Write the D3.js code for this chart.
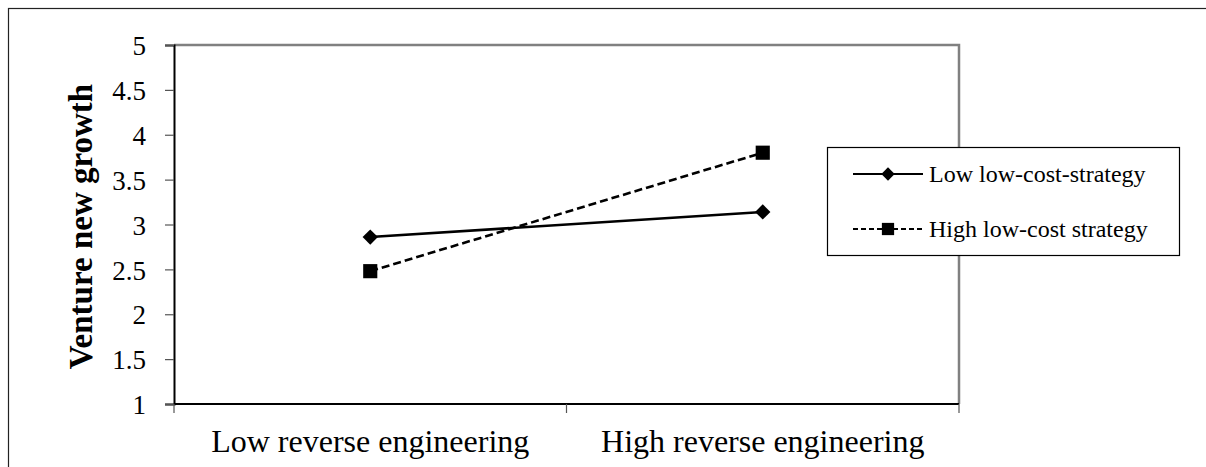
<!DOCTYPE html>
<html>
<head>
<meta charset="utf-8">
<script src="https://cdn.jsdelivr.net/npm/d3@7"></script>
<style>
  body { margin: 0; background: #fff; }
  svg text { font-family: "Liberation Serif", "Times New Roman", Times, "DejaVu Serif", serif !important; }
</style>
</head>
<body>
<svg id="chart" width="1206" height="467"></svg>
<script>
// chart data
const categories = ["Low reverse engineering", "High reverse engineering"];
const seriesNames = ["Low low-cost-strategy", "High low-cost strategy"];
const lowCostLow = [2.86, 3.14];
const lowCostHigh = [2.48, 3.80];
const yTicks = [1, 1.5, 2, 2.5, 3, 3.5, 4, 4.5, 5];

const svg = d3.select('#chart');

//outer frame of the figure
svg.append('rect')
    .attr('x', 8.5).attr('y', 8.5)
    .attr('width', 1300).attr('height', 600)
    .attr('fill', 'none')
    .attr('stroke', '#222')
    .attr('stroke-width', 1.2);

const margin = ({top: 45, right: 959, bottom: 404, left: 174});

const x = d3.scaleBand()
    .domain(categories)
    .range([margin.left, margin.right])
    .padding(0);

const y = d3.scaleLinear()
    .domain([1, 5])
    .range([margin.bottom, margin.top]);

//plot area border (grey top and right)
svg.append('path')
    .attr('d', `M${margin.left},${margin.top}H${margin.right}V${margin.bottom}`)
    .attr('fill', 'none')
    .attr('stroke', '#808080')
    .attr('stroke-width', 2.5);

//y axis
const yAxis = svg.append('g')
    .attr('transform', `translate(${margin.left},0)`)
    .call(d3.axisLeft(y).tickValues(yTicks).tickFormat(d => String(d)).tickSize(9).tickPadding(19));
yAxis.attr('font-family', null);
yAxis.select('.domain').attr('stroke', '#000').attr('stroke-width', 2);
yAxis.selectAll('.tick line').attr('stroke', '#555').attr('stroke-width', 1.2);
yAxis.selectAll('.tick text')
    .attr('fill', '#000')
    .style('font-size', '27px')
    .attr('dy', '0.36em');

//x axis baseline and tick marks at the band edges
const xEdges = categories.map(c => x(c)).concat([x(categories[categories.length - 1]) + x.bandwidth()]);
svg.append('line')
    .attr('x1', margin.left).attr('x2', margin.right)
    .attr('y1', margin.bottom).attr('y2', margin.bottom)
    .attr('stroke', '#000').attr('stroke-width', 2);
svg.append('g')
    .selectAll('line')
    .data(xEdges)
    .join('line')
        .attr('x1', d => d).attr('x2', d => d)
        .attr('y1', margin.bottom).attr('y2', margin.bottom + 9)
        .attr('stroke', '#555').attr('stroke-width', 1.2);

//x category labels
svg.append('g')
    .selectAll('text')
    .data(categories)
    .join('text')
        .attr('x', d => x(d) + x.bandwidth() / 2)
        .attr('y', 452)
        .attr('text-anchor', 'middle')
        .style('font-size', '32px')
        .text(d => d);

//y axis title
svg.append('text')
    .attr('transform', `translate(92,${(margin.top + margin.bottom) / 2 + 2}) rotate(-90)`)
    .attr('text-anchor', 'middle')
    .style('font-size', '33px')
    .style('font-weight', 'bold')
    .text('Venture new growth');

//series
const series = [
    {name: seriesNames[0], values: lowCostLow, dash: null, symbol: d3.symbolDiamond2, size: 150},
    {name: seriesNames[1], values: lowCostHigh, dash: '8,4', symbol: d3.symbolSquare, size: 200}
];

const line = d3.line()
    .x((v, i) => x(categories[i]) + x.bandwidth() / 2)
    .y(v => y(v));

series.forEach(s => {
    svg.append('path')
        .datum(s.values)
        .attr('d', line)
        .attr('fill', 'none')
        .attr('stroke', '#000')
        .attr('stroke-width', 2.6)
        .attr('stroke-dasharray', s.dash);

    svg.append('g')
        .selectAll('path')
        .data(s.values)
        .join('path')
            .attr('transform', (v, i) => `translate(${x(categories[i]) + x.bandwidth() / 2},${y(v)})`)
            .attr('d', d3.symbol().type(s.symbol).size(s.size))
            .attr('fill', '#000');
});

//legend
const legend = svg.append('g');
legend.append('rect')
    .attr('x', 827.5).attr('y', 147.5)
    .attr('width', 352).attr('height', 108)
    .attr('fill', '#fff')
    .attr('stroke', '#000')
    .attr('stroke-width', 1.2);

const legendRows = legend.selectAll('g')
    .data(series)
    .join('g')
        .attr('transform', (s, i) => `translate(853,${174 + i * 55})`);

legendRows.append('line')
    .attr('x1', 0).attr('x2', 70)
    .attr('stroke', '#000')
    .attr('stroke-width', 2.2)
    .attr('stroke-dasharray', s => s.dash ? '5,3' : null);

legendRows.append('path')
    .attr('transform', 'translate(35,0)')
    .attr('d', s => d3.symbol().type(s.symbol).size(s.size * 0.75)())
    .attr('fill', '#000');

legendRows.append('text')
    .attr('x', 76)
    .attr('dy', '0.33em')
    .style('font-size', '24px')
    .text(s => s.name);
</script>
</body>
</html>
